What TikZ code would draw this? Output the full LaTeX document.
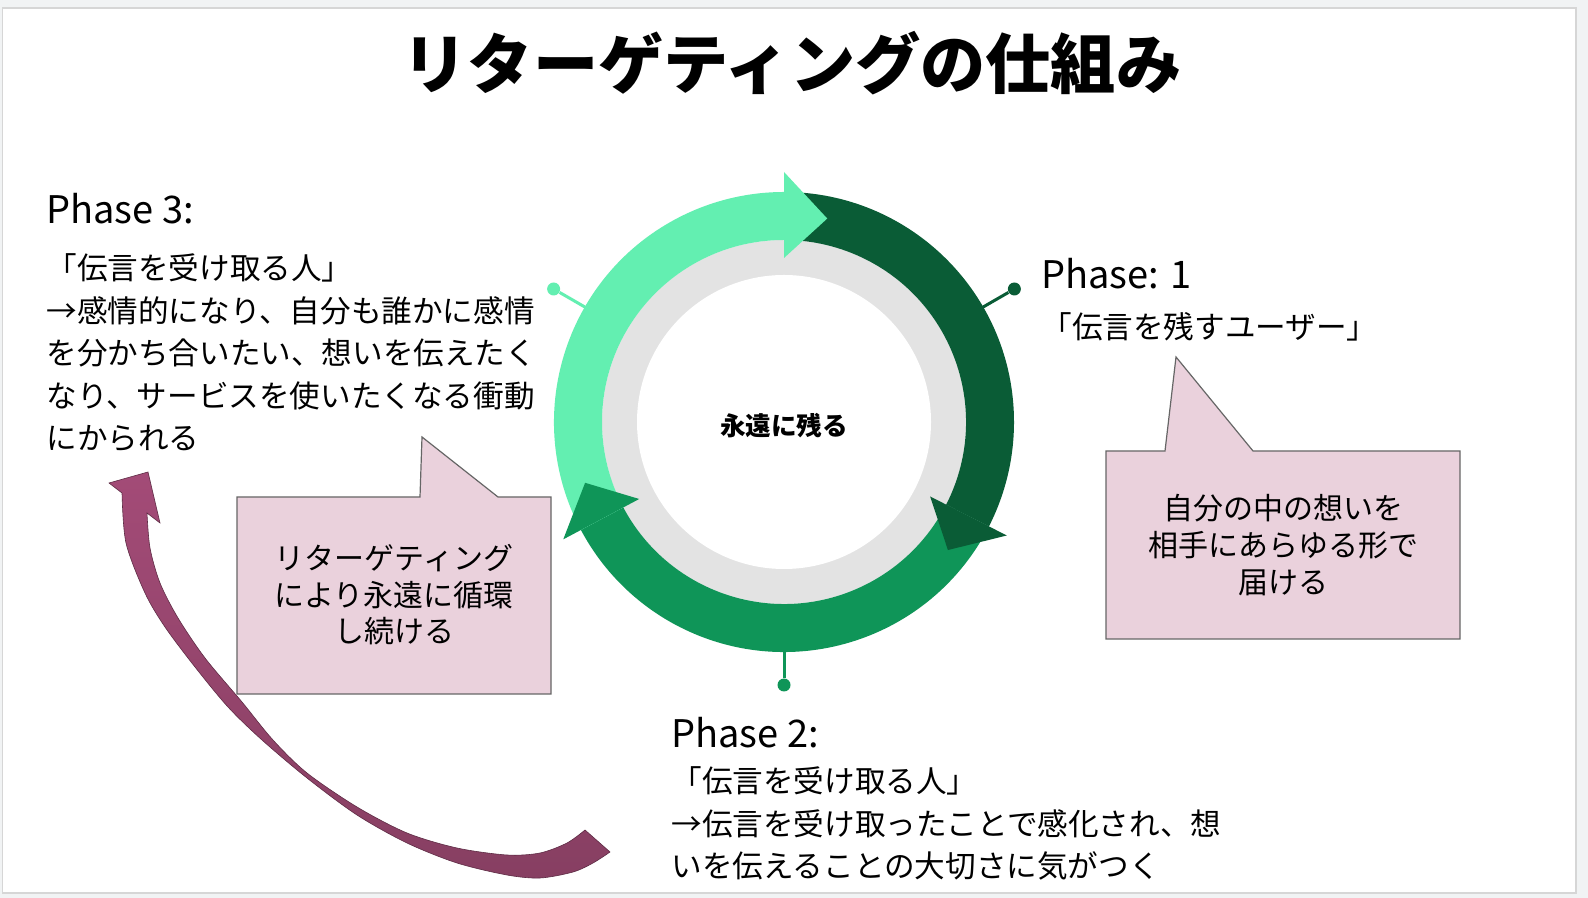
\documentclass[tikz,border=0pt]{standalone}
\usepackage{fontspec}
\setmainfont{Noto Sans CJK JP}
\definecolor{pagebg}{HTML}{F1F3F4}
\definecolor{slideedge}{HTML}{D6D6D6}
\definecolor{ringdark}{HTML}{0A5C36}
\definecolor{ringmid}{HTML}{0F9558}
\definecolor{ringlight}{HTML}{63EFB1}
\definecolor{ringgray}{HTML}{E3E3E3}
\definecolor{notefill}{HTML}{EAD1DC}
\definecolor{noteedge}{HTML}{666666}
\definecolor{loopdark}{HTML}{873F62}
\definecolor{looplight}{HTML}{A34B77}
\tikzset{
  titletext/.style={font=\fontsize{32.6}{36}\selectfont\bfseries, inner sep=0pt},
  coretext/.style={font=\fontsize{12.8}{14}\selectfont\bfseries, inner sep=0pt},
  phasehead/.style={font=\fontsize{19}{22}\selectfont, anchor=base west, inner sep=0pt},
  phasebody/.style={font=\fontsize{15.3}{21.3}\selectfont, align=left, anchor=base west, inner sep=0pt},
  notebox/.style={fill=notefill, draw=noteedge, line width=0.6pt},
  notetext/.style={font=\fontsize{15}{18.3}\selectfont, align=center, inner sep=0pt},
  ringdot/.style={circle, inner sep=0pt, minimum size=6.5pt},
  ringlink/.style={line width=1.5pt},
  loopshaft/.style={top color=looplight, bottom color=loopdark, draw=loopdark!70!black, line width=0.3pt},
}
% band of the cycle: colour, from angle, to angle
\newcommand{\cyclebody}[3]{%
  \fill[#1] (#2:230) arc[start angle=#2, end angle=#3, radius=230]
    -- (#3:182) arc[start angle=#3, end angle=#2, radius=182] -- cycle;}
% head of the cycle band: colour, base angle, tip angle
\newcommand{\cyclehead}[3]{%
  \fill[#1] (#2:250) -- (#3:208) -- (#2:164) -- cycle;}

\begin{document}
\begin{tikzpicture}[x=0.5pt,y=0.5pt]

  \fill[pagebg] (0,0) rectangle (1588,898);
  \useasboundingbox (0,0) rectangle (1588,898);
  \fill[slideedge] (2,4) rectangle (1577,891);
  \fill[white] (3,6) rectangle (1575,889);

  \node[titletext] (title) at (792,835) {リターゲティングの仕組み};

  \begin{scope}[shift={(784,476)}]
    \fill[ringgray] (0,0) circle[radius=182];
    \fill[white] (0,0) circle[radius=147];
    \cyclebody{ringmid}{-27}{-152}
    \cyclebody{ringdark}{90}{-27}
    \cyclebody{ringlight}{208}{90}
    \cyclehead{ringdark}{-27}{-38}
    \cyclehead{ringmid}{-152}{-163}
    \cyclehead{ringlight}{90}{78}
    \node[coretext] (core) at (0,-4) {永遠に残る};

    \node[ringdot, fill=ringdark] (dot1) at (30:266) {};
    \node[ringdot, fill=ringmid] (dot2) at (-90:263) {};
    \node[ringdot, fill=ringlight] (dot3) at (150:266) {};
    \draw[ringlink, ringdark] (30:229) -- (dot1);
    \draw[ringlink, ringmid] (-90:229) -- (dot2);
    \draw[ringlink, ringlight] (150:229) -- (dot3);
  \end{scope}

  \node[phasehead] (p1head) at (1041,609) {Phase: 1};
  \node[phasebody] (p1body) at (1041,559) {「伝言を残すユーザー」};

  \node[phasehead] (p2head) at (671,150) {Phase 2:};
  \node[phasebody] (p2body) at (671,20) {「伝言を受け取る人」\\%
    →伝言を受け取ったことで感化され、想\\%
    いを伝えることの大切さに気がつく};

  \node[phasehead] (p3head) at (46,674) {Phase 3:};
  \node[phasebody] (p3body) at (46,448) {「伝言を受け取る人」\\%
    →感情的になり、自分も誰かに感情\\%
    を分かち合いたい、想いを伝えたく\\%
    なり、サービスを使いたくなる衝動\\%
    にかられる};

  \draw[notebox] (1106,447) -- (1165,447) -- (1176,541) -- (1253,447) -- (1460,447)
    -- (1460,259) -- (1106,259) -- cycle;
  \node[notetext] (note1) at (1283,353) {自分の中の想いを\\相手にあらゆる形で\\届ける};

  \draw[notebox] (237,401) -- (420,401) -- (422,461) -- (498,401) -- (551,401)
    -- (551,204) -- (237,204) -- cycle;
  \node[notetext] (note3) at (394,303) {リターゲティング\\により永遠に循環\\し続ける};

  \path[loopshaft] plot[smooth] coordinates {(122,405) (126,355) (145,305)
      (165,271) (195,231) (228,191) (262,158) (307,120) (357,83) (407,55) (457,35)
      (507,23) (540,20) (573,26) (593,35) (610,46)}
    -- plot[smooth] coordinates {(585,68) (567,55) (540,45) (507,43) (457,50) (407,65)
      (357,91) (307,125) (273,158) (242,196) (205,240) (178,280) (160,315) (150,350)
      (147,385)}
    -- (160,375) -- (148,426) -- (109,415) -- cycle;

\end{tikzpicture}
\end{document}
